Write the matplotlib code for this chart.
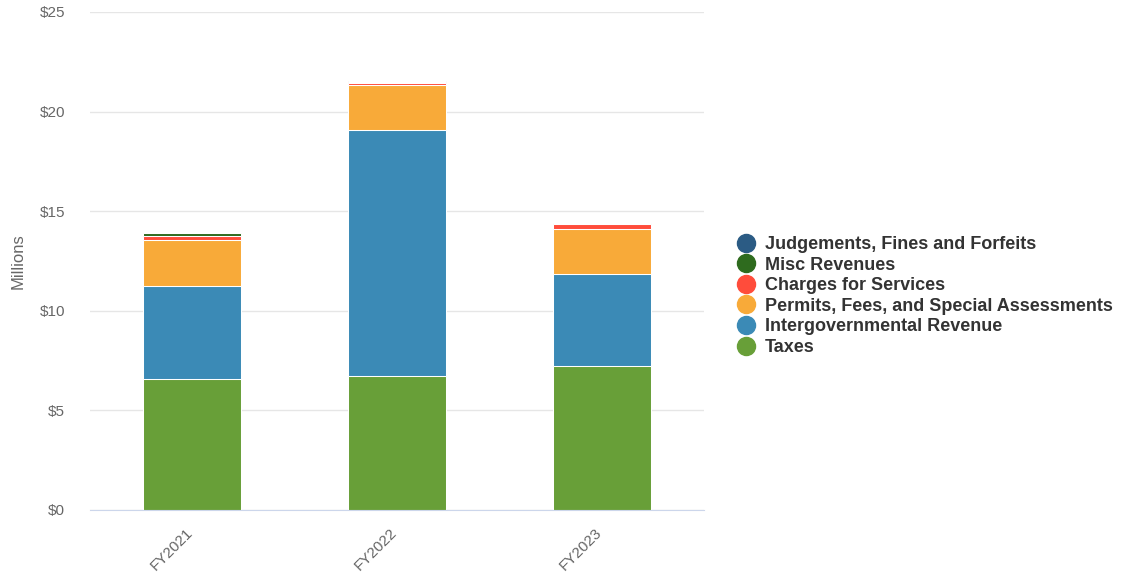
import matplotlib
matplotlib.use("Agg")
import matplotlib.pyplot as plt
from matplotlib.lines import Line2D
from matplotlib.transforms import ScaledTranslation
import numpy as np

plt.rcParams['font.family'] = ['Liberation Sans', 'DejaVu Sans']

years = ["FY2021", "FY2022", "FY2023"]
# stacking order, bottom to top (values in $ millions)
taxes = [6.58, 6.73, 7.23]
intergovernmental = [4.66, 12.35, 4.62]
permits_fees = [2.31, 2.28, 2.25]
charges_services = [0.22, 0.10, 0.28]
misc_revenues = [0.12, 0.05, 0.02]
judgements_fines = [0.03, 0.03, 0.01]

series = [
    ("Taxes", taxes, "#689f38"),
    ("Intergovernmental Revenue", intergovernmental, "#3b8ab6"),
    ("Permits, Fees, and Special Assessments", permits_fees, "#f8aa39"),
    ("Charges for Services", charges_services, "#ff4c3b"),
    ("Misc Revenues", misc_revenues, "#2e6b1e"),
    ("Judgements, Fines and Forfeits", judgements_fines, "#2b5b84"),
]

fig = plt.figure(figsize=(11.23, 5.76), dpi=100)
ax = fig.add_axes([90 / 1123, 66 / 576, 614 / 1123, 498 / 576])

x = np.arange(len(years))
bottom = np.zeros(len(years))
for name, vals, color in series:
    ax.bar(x, vals, bottom=bottom, width=0.48, color=color,
           edgecolor="white", linewidth=0.75, zorder=3)
    bottom += np.array(vals)

ax.set_xlim(-0.5, len(years) - 0.5)
ax.set_ylim(0, 25)
ax.set_yticks([0, 5, 10, 15, 20, 25])
ax.set_yticklabels([f"${v}" for v in [0, 5, 10, 15, 20, 25]])
ax.yaxis.grid(True, color="#e6e6e6", linewidth=1, zorder=0)
ax.set_axisbelow(True)

for s in ["top", "right", "left"]:
    ax.spines[s].set_visible(False)
ax.spines["bottom"].set_color("#ccd6eb")
ax.spines["bottom"].set_zorder(4)

ax.tick_params(axis="y", length=0, pad=18, labelsize=11, labelcolor="#666666")
ax.tick_params(axis="x", length=0, pad=8, labelsize=11, labelcolor="#666666")
ax.set_xticks(x)
ax.set_xticklabels(years, rotation=45, ha="right", rotation_mode="anchor")
shift = ScaledTranslation(-7 / 100, -4 / 100, fig.dpi_scale_trans)
for lbl in ax.get_xticklabels():
    lbl.set_transform(lbl.get_transform() + shift)

ax.set_ylabel("Millions", fontsize=12, color="#666666", labelpad=10)

handles = [Line2D([0], [0], marker="o", linestyle="none", markersize=13,
                  markerfacecolor=c, markeredgecolor=c, label=n)
           for n, _, c in reversed(series)]
leg = fig.legend(handles=handles, loc="center left",
                 bbox_to_anchor=(737 / 1123, 1 - 296 / 576),
                 frameon=False, handletextpad=0.55, labelspacing=0.2,
                 handlelength=1.0, borderaxespad=0, borderpad=0,
                 prop={"weight": "bold", "size": 13})
for t in leg.get_texts():
    t.set_color("#333333")

fig.savefig("out.png", dpi=100)
